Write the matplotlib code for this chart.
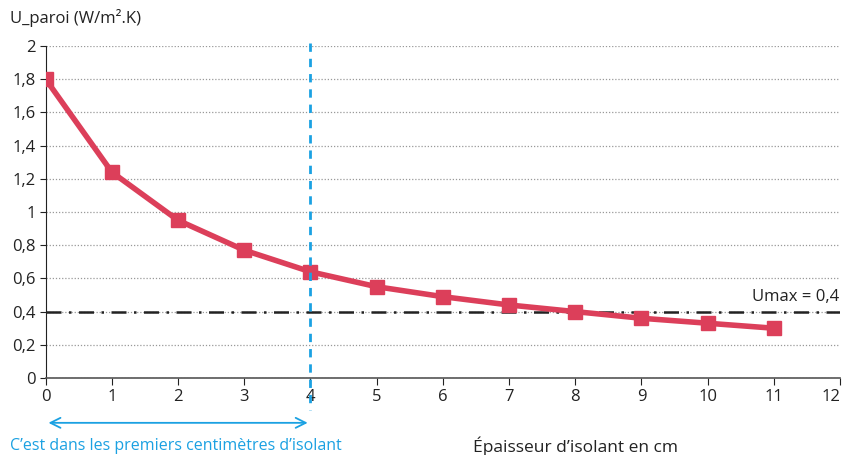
import matplotlib
matplotlib.use("Agg")
import matplotlib.pyplot as plt
from matplotlib.ticker import FuncFormatter

plt.rcParams['font.family'] = ['Open Sans', 'DejaVu Sans']

# données
epaisseur = [0, 1, 2, 3, 4, 5, 6, 7, 8, 9, 10, 11]
u_paroi = [1.80, 1.24, 0.95, 0.77, 0.64, 0.55, 0.49, 0.44, 0.40, 0.36, 0.33, 0.30]
u_max = 0.4
x_limite = 4

red = '#dc3f5a'
blue = '#1ba1e2'

fig = plt.figure(figsize=(8.43, 4.55), dpi=100)
ax = fig.add_axes([0.0542, 0.1692, 0.9422, 0.7297])

ax.plot(epaisseur, u_paroi, color=red, lw=4, marker='s', ms=9.5, zorder=4)
ax.axhline(u_max, color='#222222', lw=1.8, ls=(0, (6, 3, 1, 3)), zorder=3)
ax.text(0.999, u_max + 0.04, 'Umax = 0,4', transform=ax.get_yaxis_transform(),
        ha='right', va='bottom', fontsize=12, color='#222222')

ax.plot([x_limite, x_limite], [2.02, -0.19], color=blue, lw=2, ls=(0, (3, 2.5)),
        clip_on=False, zorder=5)
ax.annotate('', xy=(0, -0.27), xytext=(x_limite, -0.27), xycoords='data',
            arrowprops=dict(arrowstyle='<->', color=blue, lw=1.3,
                            mutation_scale=18), annotation_clip=False)

ax.set_xlim(0, 12)
ax.set_ylim(0, 2)
ax.set_xticks(range(0, 13))
ax.set_yticks([i / 5 for i in range(11)])
ax.yaxis.set_major_formatter(FuncFormatter(lambda v, p: ('%g' % round(v, 1)).replace('.', ',')))
ax.grid(axis='y', color='#999999', ls=(0, (1, 1.5)), lw=0.9)
ax.set_axisbelow(True)

for s in ['top', 'right']:
    ax.spines[s].set_visible(False)
ax.spines['left'].set_color('#222222')
ax.spines['bottom'].set_color('#555555')
ax.spines['bottom'].set_linewidth(1.2)
ax.tick_params(axis='x', length=5, labelsize=12, colors='#222222', pad=3)
ax.tick_params(axis='y', length=4, labelsize=12, colors='#222222', pad=3)
# le dernier label est décalé pour rester dans l'image
ax.get_xticklabels()[-1].set_horizontalalignment('right')

fig.text(0.012, 0.96, 'U_paroi (W/m\u00b2.K)', fontsize=12, color='#222222', va='center')
fig.text(0.012, 0.02, 'C\u2019est dans les premiers centimètres d\u2019isolant',
         fontsize=11.5, color=blue, va='center')
fig.text(0.561, 0.02, 'Épaisseur d\u2019isolant en cm', fontsize=12.5, color='#222222', va='center')

fig.savefig('out.png', dpi=100)
